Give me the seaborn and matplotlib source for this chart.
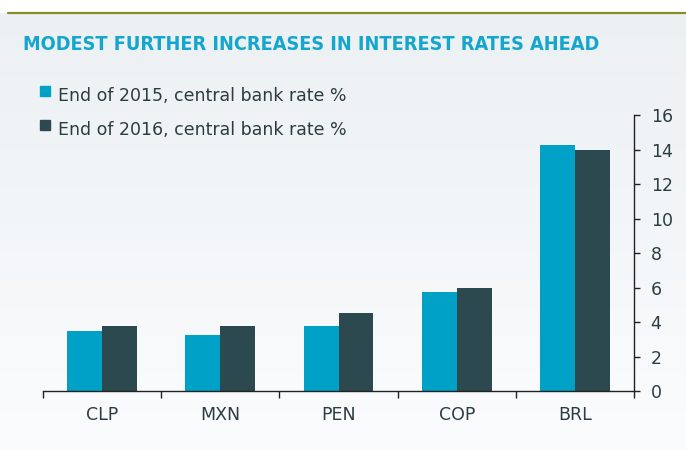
import numpy as np
import pandas as pd
import matplotlib
matplotlib.use("Agg")
import matplotlib.pyplot as plt
import seaborn as sns
from matplotlib.patches import Rectangle
from matplotlib.lines import Line2D
from matplotlib.colors import LinearSegmentedColormap

categories = ["CLP", "MXN", "PEN", "COP", "BRL"]
rate_2015 = [3.5, 3.25, 3.75, 5.75, 14.25]
rate_2016 = [3.75, 3.75, 4.5, 6.0, 14.0]
series_names = ["End of 2015, central bank rate %", "End of 2016, central bank rate %"]
y_ticks = [0, 2, 4, 6, 8, 10, 12, 14, 16]
title = "MODEST FURTHER INCREASES IN INTEREST RATES AHEAD"

df = pd.DataFrame({
    "currency": categories * 2,
    "rate": rate_2015 + rate_2016,
    "series": [series_names[0]] * len(categories) + [series_names[1]] * len(categories),
})

BLUE = "#00a1c6"
DARK = "#2b494e"
TEXT = "#2b3d42"

sns.set_theme(style="white")
plt.rcParams["font.family"] = ["DejaVu Sans"]

fig = plt.figure(figsize=(6.86, 4.5), dpi=100)

# background gradient
bg = fig.add_axes([0, 0, 1, 1], zorder=-10)
grad = np.linspace(0, 1, 256).reshape(-1, 1)
cmap = LinearSegmentedColormap.from_list("bg", ["#ebf0f3", "#fbfcfd"])
bg.imshow(grad, aspect="auto", cmap=cmap, extent=[0, 1, 0, 1], origin="upper")
bg.set_xlim(0, 1); bg.set_ylim(0, 1)
bg.axis("off")
bg.add_patch(Rectangle((0, 1 - 12 / 450), 1, 12 / 450, color="white", zorder=2))
bg.add_line(Line2D([8 / 686, 1], [1 - 12.5 / 450, 1 - 12.5 / 450], color="#8c8a2b", lw=1.6, zorder=3))

ax = fig.add_axes([43 / 686, 1 - 391 / 450, (634 - 43) / 686, (391 - 115) / 450])
ax.patch.set_alpha(0)
sns.barplot(data=df, x="currency", y="rate", hue="series", order=categories,
            hue_order=series_names, palette=[BLUE, DARK], width=0.59, gap=0,
            saturation=1, ax=ax, legend=False, edgecolor="none")

ax.set_xlim(-0.5, len(categories) - 0.5)
ax.set_ylim(0, 16)
ax.set_xlabel("")
ax.set_ylabel("")
ax.yaxis.tick_right()
ax.set_yticks(y_ticks)
ax.set_yticklabels([str(v) for v in y_ticks], fontsize=12.5, color=TEXT)
ax.tick_params(axis="y", direction="out", length=4, width=1, color="#222222", pad=8, right=True, left=False)
ax.set_xticks(range(len(categories)))
ax.set_xticklabels(categories, fontsize=12.5, color=TEXT)
ax.set_xticks(np.arange(-0.5, len(categories), 1), minor=True)
ax.tick_params(axis="x", which="major", length=0, pad=11)
ax.tick_params(axis="x", which="minor", direction="out", length=5, width=1, color="#222222", bottom=True)
for s in ["top", "left"]:
    ax.spines[s].set_visible(False)
for s in ["right", "bottom"]:
    ax.spines[s].set_visible(True)
    ax.spines[s].set_color("#222222")
    ax.spines[s].set_linewidth(1)
ax.grid(False)

fig.text(23 / 686, 1 - 45 / 450, title, fontsize=14.2, fontweight="bold", color="#14a6cf",
         va="center", ha="left", family=["DejaVu Sans"], stretch="condensed")

# legend
for i, (name, col) in enumerate(zip(series_names, [BLUE, DARK])):
    yc = 1 - (96 + 34 * i) / 450
    bg.add_patch(Rectangle((40 / 686, yc - 0 / 450), 10 / 686, 10 / 450, color=col, zorder=3))
    fig.text(58 / 686, yc, name, fontsize=12.5, color=TEXT, va="center", ha="left")

fig.savefig("out.png", dpi=100)
